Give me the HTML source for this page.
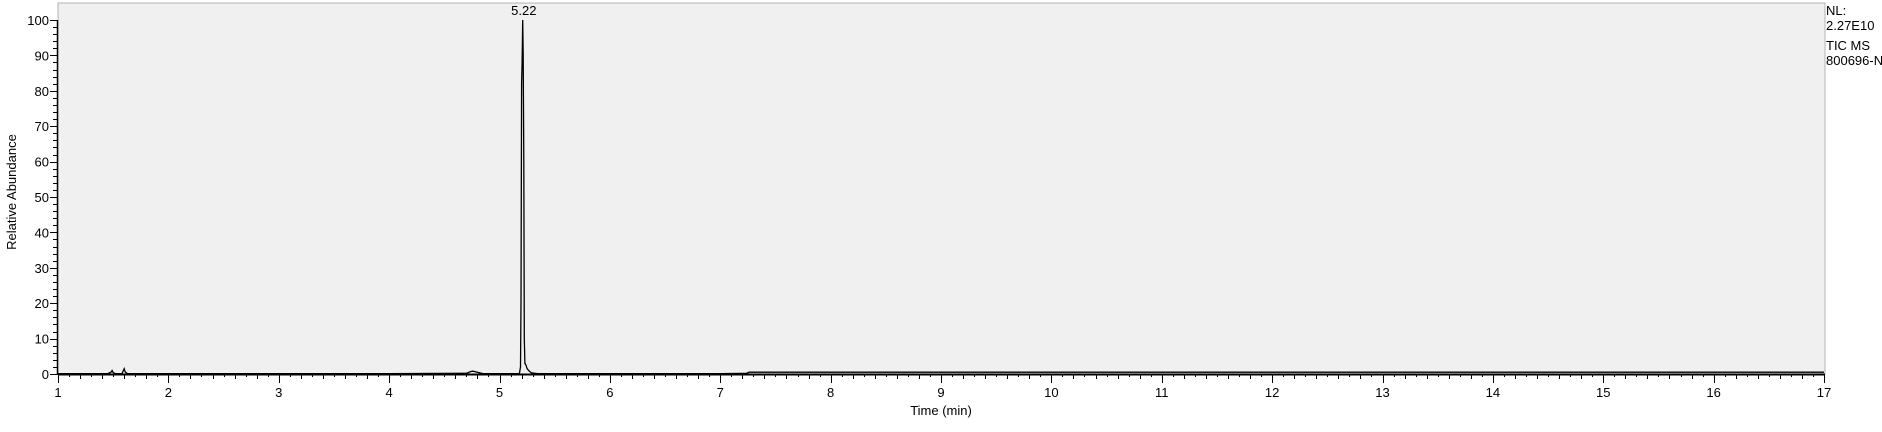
<!DOCTYPE html>
<html><head><meta charset="utf-8"><style>
body{margin:0;background:#fff;width:1882px;height:427px;overflow:hidden;font-family:"Liberation Sans",Arial,sans-serif}
svg text{font-family:"Liberation Sans",Arial,sans-serif}
</style></head><body>
<svg id="chart" width="1882" height="427" xmlns="http://www.w3.org/2000/svg">
<rect x="58" y="3" width="1767" height="371" fill="#f0f0f0" stroke="#b4b4b4" stroke-width="1"/>
<g id="axes"></g>
<path id="trace" fill="none" stroke="#000" stroke-width="1.3"/>
<text id="pk" font-size="13" text-anchor="middle" fill="#000">5.22</text>
<text x="16" y="192" font-size="13" text-anchor="middle" transform="rotate(-90 16 192)">Relative Abundance</text>
<text x="941" y="415" font-size="13" text-anchor="middle">Time (min)</text>
<g font-size="13" fill="#000">
<text x="1826" y="15">NL:</text>
<text x="1826" y="30">2.27E10</text>
<text x="1826" y="50">TIC  MS</text>
<text x="1826" y="65">800696-N</text>
</g>
</svg>
<script>
const times=[1.0,1.45,1.48,1.49,1.5,1.52,1.58,1.6,1.61,1.63,2.0,3.0,4.0,4.7,4.74,4.76,4.8,4.85,5.18,5.19,5.195,5.2,5.205,5.21,5.215,5.22,5.225,5.23,5.24,5.25,5.27,5.29,5.35,6.0,7.0,7.24,7.26,8,10,12,14,16,17];
const abund=[0.1,0.1,0.5,1.0,0.4,0.1,0.1,1.5,0.5,0.1,0.1,0.1,0.1,0.2,0.7,0.8,0.5,0.1,0.1,2,20,82,88,100,90,60,10,3,2.5,1.5,0.8,0.3,0.1,0.1,0.1,0.2,0.5,0.5,0.5,0.5,0.5,0.5,0.5];
const yTicks=[0,10,20,30,40,50,60,70,80,90,100];
const xTicks=[1,2,3,4,5,6,7,8,9,10,11,12,13,14,15,16,17];
const peakLabels=[[5.22,100,"5.22"]];
const X=t=>58+(t-1)*(1824-58)/16;
const Y=v=>374-v*(374-20)/100;
const ns="http://www.w3.org/2000/svg";
const ax=document.getElementById('axes');
function ln(x1,y1,x2,y2,w){const l=document.createElementNS(ns,'line');l.setAttribute('x1',x1);l.setAttribute('y1',y1);l.setAttribute('x2',x2);l.setAttribute('y2',y2);l.setAttribute('stroke','#000');l.setAttribute('stroke-width',w||1);ax.appendChild(l);return l;}
function tx(x,y,s,anchor){const t=document.createElementNS(ns,'text');t.setAttribute('x',x);t.setAttribute('y',y);t.setAttribute('font-size','13');t.setAttribute('text-anchor',anchor);t.textContent=s;ax.appendChild(t);return t;}
const xa=ln(58,374.5,1825,374.5,2);


const ya=ln(57.5,20,57.5,375,1.5);


for(let i=0;i<=160;i++){const t=1+i/10;const x=Math.round(X(t))+0.5;const len=i%10==0?9:(i%2==0?5:3);ln(x,374,x,374+len,1);}
xTicks.forEach(t=>{const e=tx(X(t),397,String(t),'middle');

});
for(let v=0;v<=100;v+=2){const y=Math.round(Y(v))+0.5;ln(v%10==0?50:53,y,58,y,1);}
yTicks.forEach(v=>{const e=tx(49,Y(v)+5,String(v),'end');

});
document.getElementById('trace').setAttribute('d',times.map((t,i)=>(i?'L':'M')+X(t).toFixed(1)+' '+Y(abund[i]).toFixed(1)).join(' '));
const pk=document.getElementById('pk');pk.setAttribute('x',X(peakLabels[0][0]));pk.setAttribute('y',Y(peakLabels[0][1])-5);
</script>
</body></html>
